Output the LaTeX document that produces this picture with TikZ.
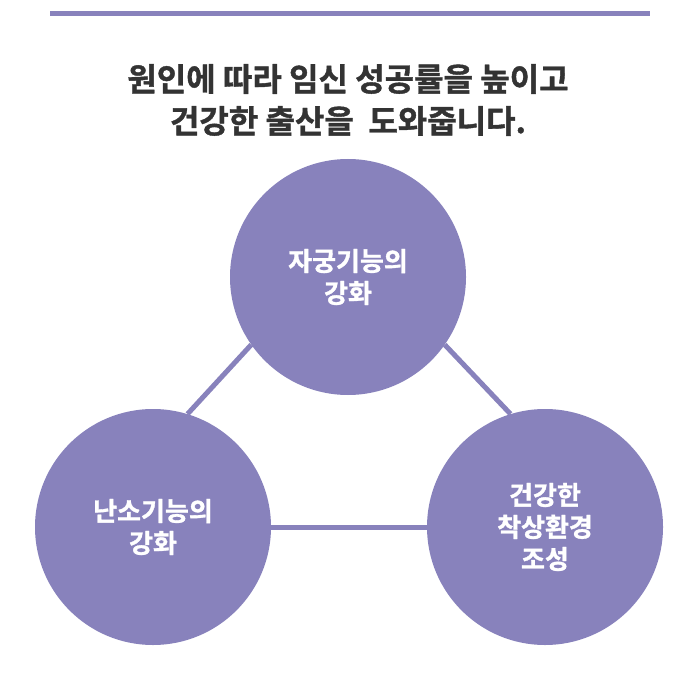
\documentclass[tikz,border=0pt]{standalone}
\usepackage{fontspec}
\setmainfont{Noto Sans CJK KR}[BoldFont={Noto Sans CJK KR Bold}, BoldFeatures={FakeBold=1.2}]
\usepackage{xcolor}
\usepackage{tikz}
\usetikzlibrary{positioning,backgrounds}
\definecolor{tgPurple}{RGB}{136,130,188}
\definecolor{tgText}{RGB}{51,51,51}

\begin{document}
\begin{tikzpicture}[
  x=1pt, y=-1pt,
  circ/.style={circle, fill=tgPurple, minimum size=236pt, inner sep=0pt, text=white, align=center,
    font=\bfseries\fontsize{26}{32}\selectfont},
  link/.style={draw=tgPurple, line width=5pt},
  ttl/.style={text=tgText, align=center, font=\bfseries\fontsize{32}{42}\selectfont}
]
\useasboundingbox (0,0) rectangle (700,700);
\draw[link] (50,14) -- (650,14);
\node[ttl] (title) at (348,100) {원인에 따라 임신 성공률을 높이고\\건강한 출산을\ \ 도와줍니다.};

\node[circ] (uterus)  at (348,277) {자궁기능의\\강화};
\node[circ] (ovary)   at (153,527) {난소기능의\\강화};
\node[circ] (implant) at (545,527) {건강한\\착상환경\\조성};

\draw[link] (uterus.215) -- (ovary.73);
\draw[link] (uterus.325) -- (implant.107);
\draw[link] (ovary.east) -- (implant.west);
\end{tikzpicture}
\end{document}
